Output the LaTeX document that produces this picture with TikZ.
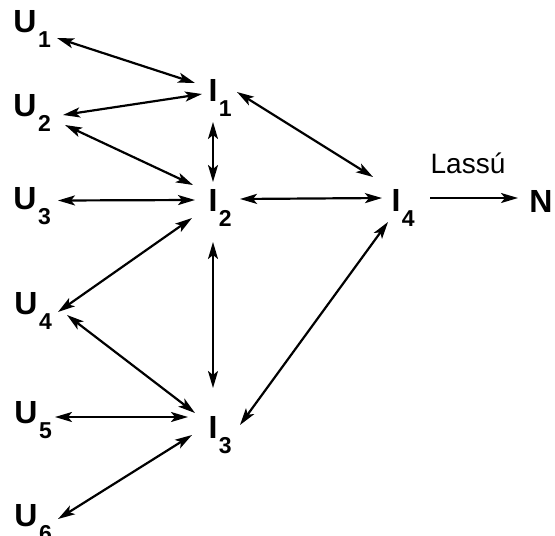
\documentclass[tikz,border=0pt]{standalone}
\usepackage{fontspec}
\setmainfont{Liberation Sans}
\usetikzlibrary{arrows.meta}
\newcommand\subs[1]{\rlap{\smash{\raisebox{-14.5pt}{\kern1.5pt\fontsize{23}{23}\selectfont\bfseries #1}}}}
\tikzset{
  lbl/.style={inner sep=0pt, outer sep=0pt, font=\fontsize{32}{32}\selectfont\bfseries, text height=23pt, text depth=0pt},
  conn/.style={line width=2.2pt, {Stealth[length=17pt,width=10pt,inset=4pt]}-{Stealth[length=17pt,width=10pt,inset=4pt]}},
  oneway/.style={line width=2.2pt, -{Stealth[length=17pt,width=10pt,inset=4pt]}},
  note/.style={inner sep=0pt, font=\fontsize{28}{28}\selectfont}
}
\begin{document}
\begin{tikzpicture}[x=1pt,y=-1pt]
\useasboundingbox (0,0) rectangle (555,536);
\node[lbl] (U1) at (25,21) {U\subs{1}};
\node[lbl] (U2) at (25,105) {U\subs{2}};
\node[lbl] (U3) at (25,198) {U\subs{3}};
\node[lbl] (U4) at (26,303) {U\subs{4}};
\node[lbl] (U5) at (26,412) {U\subs{5}};
\node[lbl] (U6) at (26,515) {U\subs{6}};
\node[lbl] (I1) at (213,90) {I\subs{1}};
\node[lbl] (I2) at (213,200) {I\subs{2}};
\node[lbl] (I3) at (213,427) {I\subs{3}};
\node[lbl] (I4) at (396,200) {I\subs{4}};
\node[lbl] (N) at (541,201) {N};
\node[note] (lassu) at (468,163) {Lassú};

\draw[conn] ([shift={(32,17)}]U1.center) -- ([shift={(-18,-7)}]I1.center);
\draw[conn] ([shift={(38,10)}]U2.center) -- ([shift={(-11,4)}]I1.center);
\draw[conn] ([shift={(40,20)}]U2.center) -- ([shift={(-20,-15)}]I2.center);
\draw[conn] ([shift={(0,32)}]I1.center) -- ([shift={(0,-18)}]I2.center);
\draw[conn] ([shift={(33,2.5)}]U3.center) -- ([shift={(-18,0)}]I2.center);
\draw[conn] ([shift={(27,-1)}]I2.center) -- ([shift={(-14,-2)}]I4.center);
\draw[conn] ([shift={(24,2)}]I1.center) -- ([shift={(-23,-23)}]I4.center);
\draw[oneway] ([shift={(34,-2)}]I4.center) -- ([shift={(-23,-3)}]N.center);
\draw[conn] ([shift={(-8,22)}]I4.center) -- ([shift={(27,-2)}]I3.center);
\draw[conn] ([shift={(32,9)}]U4.center) -- ([shift={(-21,18)}]I2.center);
\draw[conn] ([shift={(0,42)}]I2.center) -- ([shift={(0,-39)}]I3.center);
\draw[conn] ([shift={(41,12)}]U4.center) -- ([shift={(-18,-14)}]I3.center);
\draw[conn] ([shift={(29,5)}]U5.center) -- ([shift={(-25,-10)}]I3.center);
\draw[conn] ([shift={(32,4)}]U6.center) -- ([shift={(-21,8)}]I3.center);
\end{tikzpicture}
\end{document}
